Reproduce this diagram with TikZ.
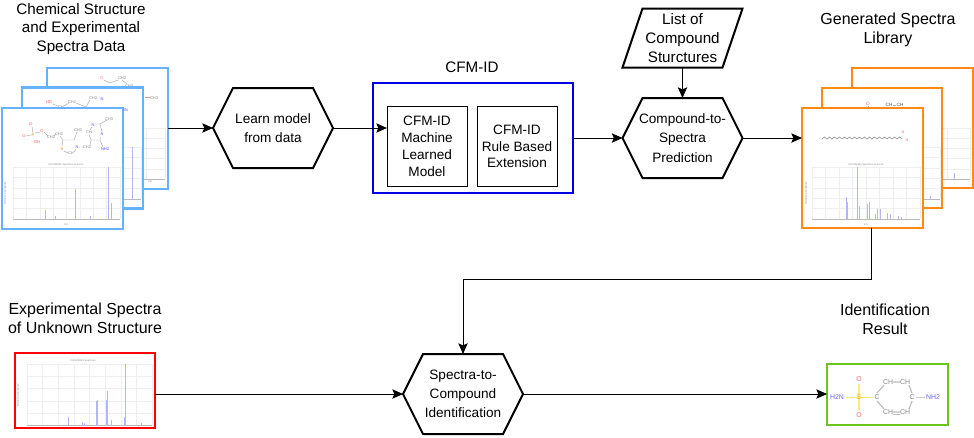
\documentclass[tikz,border=0pt]{standalone}
\usepackage{fontspec}
\setmainfont{Liberation Sans}
\usetikzlibrary{arrows.meta,calc}
\definecolor{cfmblue}{HTML}{0000E6}
\definecolor{skyb}{HTML}{66B2FF}
\definecolor{orng}{HTML}{FF8A14}
\definecolor{grn}{HTML}{6CC51C}
\definecolor{peak}{HTML}{B4B4F8}
\definecolor{gridc}{HTML}{EEEEEE}
\definecolor{chemg}{HTML}{888888}
\tikzset{
  x=0.75pt,y=-0.75pt,
  conn/.style={draw=black,line width=0.75pt,-{Stealth[length=8pt,width=7pt,inset=1.5pt]}},
  shapebox/.style={draw=black,line width=0.75pt,fill=white,inner sep=0pt,outer sep=0pt,align=center,font=\fontsize{10.2}{12.6}\selectfont},
  hexbase/.style={inner sep=0pt,outer sep=0pt,align=center,minimum width=90pt,minimum height=60pt,font=\fontsize{10.2}{14.4}\selectfont},
  label/.style={inner sep=0pt,align=center,font=\fontsize{11.4}{14.2}\selectfont},
  widelabel/.style={inner sep=0pt,align=center,font=\fontsize{12}{14.2}\selectfont},
  thumb/.style={draw=#1,line width=1.9pt,fill=white,inner sep=0pt,outer sep=0pt},
  chem/.style={inner sep=0pt,font=\fontsize{#1}{#1}\selectfont,text=chemg},
  chem/.default=3,
  tiny axis/.style={inner sep=0pt,font=\fontsize{1.9}{2}\selectfont,text=chemg},
  bond/.style={draw=chemg!70,line width=0.35pt},
}
% plot: x0,ytop,x1,yaxis, number of vertical grid lines
\newcommand\plotgrid[5]{%
  \foreach \ii in {0,...,5}{\draw[gridc,line width=0.35pt] (#1,{#2+(#4-#2)*\ii/5}) -- (#3,{#2+(#4-#2)*\ii/5});}
  \foreach \ii in {0,...,#5}{\draw[gridc,line width=0.35pt] ({#1+(#3-#1)*\ii/#5},#2) -- ({#1+(#3-#1)*\ii/#5},#4);}
  \draw[gray!55,line width=0.35pt] (#1,#4) -- (#3,#4);
}
% peaks: list of x/top at given axis y
\newcommand\peaks[2]{\foreach \px/\pt in {#2}{\draw[peak,line width=0.6pt] (\px,\pt) -- (\px,#1);}}
% hexagon around a rectangular node
\newcommand\hexa[4]{%
  \node[hexbase] (#1) at (#2,#3) {#4};
  \draw[line width=1.5pt,line join=miter] (#1.west) -- ($(#1.north west)+(20,0)$) -- ($(#1.north east)+(-20,0)$) -- (#1.east) -- ($(#1.south east)+(-20,0)$) -- ($(#1.south west)+(20,0)$) -- cycle;
}
\begin{document}
\begin{tikzpicture}
\useasboundingbox (0,0) rectangle (974,437);
\fill[white] (0,0) rectangle (974,437);

% ---------- left stack
\node[thumb=skyb,minimum width=90.75pt,minimum height=90.75pt] (sb3) at (107.5,128.5) {};
\plotgrid{72}{128}{165}{179}{5}
\node[chem,text=red!60] at (102,78) {O};
\node[chem] at (122,78) {CH2};
\node[chem] at (129,86) {CH3};
\node[chem] at (154,98) {CH3};
\draw[bond] (104,80) -- (110,83) -- (118,80) (122,80) -- (127,84);
\draw[red!40,line width=0.35pt] (145,97.5) -- (150,97.5);
\node[tiny axis] at (150,182) {100};

\node[thumb=skyb,minimum width=90.75pt,minimum height=90.75pt] (sb2) at (82.5,148) {};
\plotgrid{30}{147}{141}{199}{5}
\peaks{199}{132/147}
\node[chem,text=red!70] at (49,102) {HO};
\node[chem] at (72,102) {CH2};
\node[chem] at (61,107) {CH};
\node[chem] at (93,98) {CH2};
\node[chem,text=blue!70] at (102,99) {N};
\node[chem,text=blue!70] at (125,110) {HN};
\draw[bond] (53,104) -- (58,106) (64,106) -- (69,103) (76,103) -- (86,107) -- (90,100) (96,98) -- (100,98);

\node[thumb=skyb,minimum width=90.75pt,minimum height=90.75pt] (sb1) at (62.5,168.5) {};
\plotgrid{13}{167}{120}{219}{8}
\peaks{219}{45.3/210,55/216,75.7/189,90/216,108.3/167,111.3/203}
\node[tiny axis] at (66,165) {CID-MS/MS Spectrum at 40 eV};
\node[tiny axis,rotate=90] at (5,193) {Relative Abundance};
\node[tiny axis] at (66,225) {m/z};
\node[chem,text=orange!90!black] at (33,135) {P};
\node[chem,text=red!70] at (31,124) {O};
\node[chem,text=red!70] at (24,136) {O};
\node[chem,text=red!70] at (37,142) {OH};
\node[chem,text=red!70] at (42,131) {O};
\node[chem] at (51,137) {CH2};
\node[chem] at (59,134) {CH2};
\node[chem] at (78,130) {CH3};
\node[chem,text=orange!90!black] at (62,149) {S};
\node[chem] at (71,153) {CH};
\node[chem,text=blue!70] at (77,147) {N};
\node[chem] at (87,147) {CH2};
\node[chem] at (89,132) {CH};
\node[chem,text=blue!70] at (93,125) {N};
\node[chem] at (109,119) {CH3};
\node[chem,text=blue!70] at (102,134) {N};
\node[chem,text=blue!70] at (105,149) {NH2};
\draw[bond] (32,127) -- (33,133) (26,136) -- (31,135) (35,133) -- (40,132) (44,132) -- (48,136) (54,136) -- (56,134) (60,136) -- (63,140) -- (74,140) -- (77,132) (63,140) -- (62,146) (64,151) -- (68,153) (74,152) -- (76,149) (79,147) -- (84,147) (90,145) -- (91,140) -- (100,140) -- (103,147) (91,140) -- (89,134) (90,130) -- (92,127) (95,124) -- (100,124) -- (107,120) (100,124) -- (102,132) (101,137) -- (100,140);

% ---------- title / central
\node[label] (lbl1) at (81,29) {Chemical Structure\\and Experimental\\Spectra Data};
\hexa{learn}{273}{128}{Learn model\\from data}

\node[draw=cfmblue,line width=1.5pt,fill=white,inner sep=0pt,outer sep=0pt,minimum width=150pt,minimum height=82.5pt] (cfm) at (473,138) {};
\node[label] (lbl2) at (472,67) {CFM-ID};
\node[shapebox,minimum width=60pt,minimum height=60pt] (ml) at (427,146.5) {CFM-ID\\Machine\\Learned\\Model};
\node[shapebox,minimum width=60pt,minimum height=60pt] (rb) at (517,146.5) {CFM-ID\\Rule Based\\Extension};

\hexa{c2s}{682.5}{138}{Compound-to-\\Spectra\\Prediction}

% parallelogram
\node[inner sep=0pt,outer sep=0pt,minimum width=90pt,minimum height=44.25pt,align=center,font=\fontsize{11.4}{14.2}\selectfont] (list) at (682.5,38) {List of\\Compound\\Sturctures};
\draw[line width=1.5pt] (list.south west) -- ($(list.north west)+(20,0)$) -- (list.north east) -- ($(list.south east)+(-20,0)$) -- cycle;

% ---------- right stack
\node[thumb=orng,minimum width=90.5pt,minimum height=90pt] (ob3) at (912.5,128) {};
\plotgrid{880}{128}{970}{179}{4}
\peaks{179}{954/173}
\node[thumb=orng,minimum width=90pt,minimum height=90pt] (ob2) at (882,148) {};
\plotgrid{832}{147}{940}{199}{5}
\peaks{199}{930/196}
\node[chem=3.5,text=red!60] at (868,104) {O};
\node[chem=3.5,text=black!70] at (889,105) {CH};
\node[chem=3.5,text=black!70] at (900,105) {CH};
\draw[bond] (893,105) -- (896,105);
\draw[red!50,line width=0.4pt] (868,106) -- (868,108);
\node[chem,text=violet!60] at (923,117) {N};
\node[thumb=orng,minimum width=90.75pt,minimum height=90pt] (ob1) at (862.5,168) {};
\plotgrid{812}{167}{920}{219}{8}
\peaks{219}{846/197,847.3/202,857.3/167,859.7/206,867.3/204,869.3/202,875.7/214,877.7/209,880/209,887.7/213,890/214,898.3/216,901/217}
\node[tiny axis] at (866,165) {CID-MS/MS Spectrum at 40 eV};
\node[tiny axis,rotate=90] at (806,193) {Relative Abundance};
\node[tiny axis] at (866,225) {m/z};
\draw[chemg,line width=0.4pt] (822,139) \foreach \k in {1,...,16}{ -- ++(2.5,-2) -- ++(2.5,2)} ;
\node[chem=2.6,text=red!70] at (903,132) {O};
\node[chem=2.6,text=red!70] at (907,140) {O};
\node[widelabel] (lbl3) at (888,30) {Generated Spectra\\Library};

% ---------- bottom row
\node[widelabel] (lbl4) at (85,318.5) {Experimental Spectra\\of Unknown Structure};
\node[thumb=red,minimum width=105pt,minimum height=56.25pt] (unk) at (85,390.5) {};
\begin{scope}
\clip (16,354) rectangle (154,427);
\plotgrid{27}{364}{152}{425.5}{8}
\peaks{425.5}{68/417,82.7/422,84/423,96/401,97/400,97.3/424,106/400,107.3/391,111.7/420,125/364,124.7/417,141/423}
\node[tiny axis] at (83,361) {CID-MS/MS Spectrum};
\node[tiny axis,rotate=90] at (18,395) {Relative Abundance};
\end{scope}

\hexa{s2c}{463}{394}{Spectra-to-\\Compound\\Identification}

\node[widelabel] (lbl5) at (885,319) {Identification\\Result};
\node[thumb=grn,minimum width=90.75pt,minimum height=45.75pt] (res) at (887.5,394.5) {};
\draw[black!25,line width=0.9pt] (877,393) -- (884,385) (893,382) -- (900,382) (909,385) -- (912,393) (912,401) -- (909,409) (900,412) -- (893,412) (884,409) -- (877,401);
\draw[black!25,line width=0.6pt] (893,414) -- (900,414);
\draw[yellow!70!orange!50,line width=0.9pt] (859,384) -- (859,410);
\draw[yellow!70!orange!50,line width=0.6pt] (846,397) -- (874,397);
\draw[black!20,line width=0.6pt] (916,397) -- (925,397);
\node[chem=5.2,text=blue!60] at (837,397) {H2N};
\node[chem=5.2,text=orange!60!yellow] at (859,397) {S};
\node[chem=5.2,text=red!60] at (859,379) {O};
\node[chem=5.2,text=red!60] at (859,415) {O};
\node[chem=5.2] at (877,397) {C};
\node[chem=5.2] at (888,382) {CH};
\node[chem=5.2] at (905,382) {CH};
\node[chem=5.2] at (912,397) {C};
\node[chem=5.2] at (888,412) {CH};
\node[chem=5.2] at (905,412) {CH};
\node[chem=5.2,text=blue!60] at (933,397) {NH2};

% ---------- connectors
\draw[conn] (sb3.east |- learn.west) -- (learn.west);
\draw[conn] (learn.east) -- (learn.east -| ml.west);
\draw[conn] (cfm.east) -- (c2s.west);
\draw[conn] (list.south) -- (c2s.north);
\draw[conn] (c2s.east) -- (c2s.east -| ob1.west);
\coordinate (turn1) at (871,279);
\draw[conn] (ob1.south -| turn1) -- (turn1) -- (turn1 -| s2c.north) -- (s2c.north);
\draw[conn] (unk.east |- s2c.west) -- (s2c.west);
\draw[conn] (s2c.east) -- (s2c.east -| res.west);
\end{tikzpicture}
\end{document}
